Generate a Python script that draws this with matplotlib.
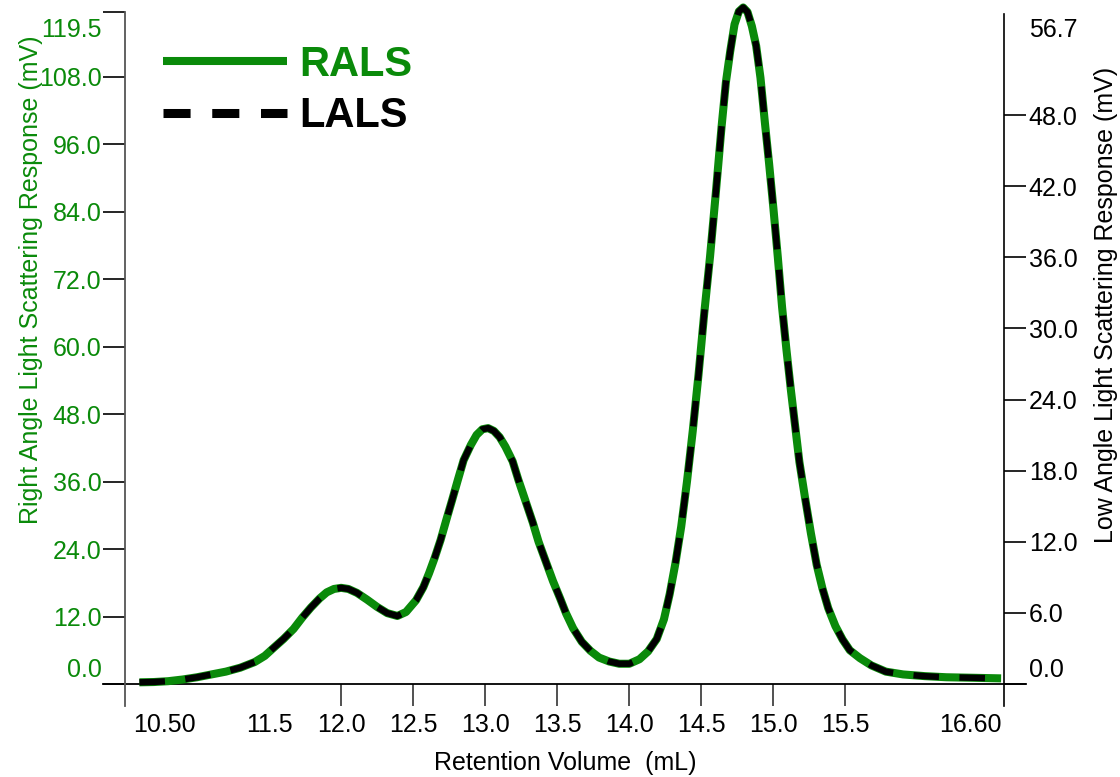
import matplotlib
matplotlib.use("Agg")
import matplotlib.pyplot as plt
from matplotlib.lines import Line2D

plt.rcParams['font.family'] = ['Liberation Sans', 'DejaVu Sans']

# Retention volume (mL)
volume = [10.60, 10.70, 10.80, 10.90, 11.00, 11.10, 11.20, 11.30, 11.40, 11.47,
          11.53, 11.60, 11.67, 11.73, 11.79, 11.85, 11.90, 11.95, 12.00, 12.05,
          12.11, 12.18, 12.25, 12.32, 12.39, 12.45, 12.52, 12.57, 12.61, 12.65,
          12.69, 12.73, 12.77, 12.81, 12.85, 12.90, 12.94, 12.98, 13.02, 13.06,
          13.10, 13.14, 13.19, 13.23, 13.28, 13.33, 13.37, 13.42, 13.47, 13.52,
          13.56, 13.61, 13.67, 13.73, 13.79, 13.86, 13.93, 14.00, 14.07, 14.13,
          14.19, 14.24, 14.28, 14.32, 14.36, 14.40, 14.44, 14.48, 14.52, 14.56,
          14.60, 14.64, 14.67, 14.70, 14.73, 14.76, 14.79, 14.82, 14.85, 14.88,
          14.91, 14.94, 14.97, 15.00, 15.03, 15.06, 15.09, 15.12, 15.15, 15.18,
          15.22, 15.26, 15.30, 15.34, 15.38, 15.43, 15.48, 15.53, 15.60, 15.68,
          15.78, 15.90, 16.05, 16.20, 16.40, 16.58]

# Right angle light scattering response (mV)
rals = [0.30, 0.35, 0.50, 0.80, 1.20, 1.70, 2.20, 2.90, 3.90, 5.00,
        6.40, 8.00, 9.80, 11.80, 13.60, 15.20, 16.30, 16.90, 17.10, 16.90,
        16.20, 15.00, 13.70, 12.60, 12.10, 12.80, 14.90, 17.20, 19.70, 22.50,
        25.60, 29.20, 32.70, 36.30, 39.80, 42.50, 44.30, 45.30, 45.50, 45.00,
        43.90, 42.20, 39.60, 36.30, 32.50, 28.70, 25.30, 21.80, 18.30, 15.20,
        12.60, 9.90, 7.50, 5.90, 4.70, 4.00, 3.60, 3.60, 4.40, 5.80,
        8.00, 11.50, 16.00, 21.50, 28.00, 36.00, 45.00, 55.00, 66.00, 76.00,
        87.30, 99.10, 107.00, 112.50, 117.30, 119.60, 120.30, 119.50, 117.00, 113.50,
        107.80, 100.00, 92.50, 84.50, 76.00, 67.00, 59.50, 52.50, 46.00, 39.50,
        33.00, 26.80, 21.20, 17.00, 13.50, 10.30, 7.90, 6.00, 4.60, 3.30,
        2.20, 1.70, 1.40, 1.20, 1.10, 1.00]

# Low angle light scattering response (mV)
lals = [0.14, 0.17, 0.24, 0.38, 0.57, 0.81, 1.04, 1.38, 1.85, 2.37,
        3.04, 3.80, 4.65, 5.60, 6.45, 7.21, 7.73, 8.02, 8.11, 8.02,
        7.69, 7.12, 6.50, 5.98, 5.74, 6.07, 7.07, 8.16, 9.35, 10.68,
        12.15, 13.86, 15.52, 17.22, 18.89, 20.17, 21.02, 21.49, 21.59, 21.35,
        20.83, 20.02, 18.79, 17.22, 15.42, 13.62, 12.00, 10.34, 8.68, 7.21,
        5.98, 4.70, 3.56, 2.80, 2.23, 1.90, 1.71, 1.71, 2.09, 2.75,
        3.80, 5.46, 7.59, 10.20, 13.29, 17.08, 21.35, 26.10, 31.32, 36.06,
        41.42, 47.02, 50.77, 53.38, 55.66, 56.75, 57.08, 56.70, 55.52, 53.85,
        51.15, 47.45, 43.89, 40.10, 36.06, 31.79, 28.23, 24.91, 21.83, 18.74,
        15.66, 12.72, 10.06, 8.07, 6.41, 4.89, 3.75, 2.85, 2.18, 1.57,
        1.04, 0.81, 0.66, 0.57, 0.52, 0.47]

left_ticks = [0, 12, 24, 36, 48, 60, 72, 84, 96, 108, 119.5]
right_ticks = [0, 6, 12, 18, 24, 30, 36, 42, 48]
x_ticks = [11.5, 12.0, 12.5, 13.0, 13.5, 14.0, 14.5, 15.0, 15.5]

GREEN = '#0a8a0a'
FS = 18

fig = plt.figure(figsize=(11.2, 7.77), dpi=100)
W, H = 1120, 777
L, R, T, B = 125, 1004, 12, 706
ax = fig.add_axes([L / W, 1 - B / H, (R - L) / W, (B - T) / H])
ax2 = ax.twinx()

px_per_left = (684 - 12) / 119.5
px_per_right = (684 - 12) / 56.7
ax.set_xlim(10.5, 16.6)
ax.set_ylim(-(B - 684) / px_per_left, 119.5)
ax2.set_ylim(-(B - 684) / px_per_right, 56.7)

ax.plot(volume, rals, color=GREEN, lw=5.8, solid_capstyle='butt',
        solid_joinstyle='round', zorder=3, clip_on=False)
ax2.plot(volume, lals, color='black', lw=4.6, dashes=(4.0, 3.2),
         dash_joinstyle='round', zorder=4, clip_on=False)

# spines
for a in (ax, ax2):
    a.spines['top'].set_visible(False)
    a.spines['bottom'].set_visible(False)
ax.spines['left'].set_color('#555555')
ax.spines['left'].set_linewidth(1.3)
ax.spines['right'].set_visible(False)
ax2.spines['left'].set_visible(False)
ax2.spines['right'].set_color('black')
ax2.spines['right'].set_linewidth(1.2)
ax2.spines['right'].set_bounds(-(B - 684) / px_per_right, 56.7 - 2 / px_per_right)

# zero line spanning beyond both spines
ax.axhline(0, xmin=-22 / (R - L), xmax=1 + 22 / (R - L), color='black', lw=1.3,
           clip_on=False, zorder=2)

# left axis
ax.set_yticks(left_ticks)
ax.set_yticklabels([''] + [f'{v:.1f}' for v in left_ticks[1:-1]] + [''])
ax.tick_params(axis='y', direction='out', length=15.8, width=1.2, color='black',
               labelcolor=GREEN, labelsize=FS, pad=1)
ax.annotate('119.5', xy=(0, 119.5), xycoords=('axes fraction', 'data'),
            xytext=(-17, -13), textcoords='offset points', ha='right', va='center',
            color=GREEN, fontsize=FS)
ax.annotate('0.0', xy=(0, 0), xycoords=('axes fraction', 'data'),
            xytext=(-17, 10), textcoords='offset points', ha='right', va='center',
            color=GREEN, fontsize=FS)

# right axis
ax2.set_yticks(right_ticks)
ax2.set_yticklabels([''] + [f'{v:.1f}' for v in right_ticks[1:]])
ax2.tick_params(axis='y', direction='out', length=15.8, width=1.2, color='black',
                labelcolor='black', labelsize=FS, pad=2)
ax2.annotate('56.7', xy=(1, 56.7), xycoords=('axes fraction', 'data'),
             xytext=(18, -13), textcoords='offset points', ha='left', va='center',
             color='black', fontsize=FS)
ax2.annotate('0.0', xy=(1, 0), xycoords=('axes fraction', 'data'),
             xytext=(18, 10), textcoords='offset points', ha='left', va='center',
             color='black', fontsize=FS)

# x axis
ax.set_xticks(x_ticks)
ax.set_xticklabels([f'{v:.1f}' for v in x_ticks])
ax.tick_params(axis='x', direction='in', length=15.8, width=1.2, color='#333333',
               labelsize=FS, pad=5)
ax.xaxis.get_major_ticks()[0].tick1line.set_visible(False)
ax.annotate('10.50', xy=(10.5, 0), xycoords=('data', 'axes fraction'),
            xytext=(6, -5), textcoords='offset points', ha='left', va='top', fontsize=FS)
ax.annotate('16.60', xy=(16.6, 0), xycoords=('data', 'axes fraction'),
            xytext=(-2, -5), textcoords='offset points', ha='right', va='top', fontsize=FS)

# axis titles
xl = ax.set_xlabel('Retention Volume  (mL)', fontsize=FS)
xl.set_va('center')
ax.xaxis.set_label_coords((565 - L) / (R - L), (B - 763) / (B - T))
yl = ax.set_ylabel('Right Angle Light Scattering Response (mV)', fontsize=FS, color=GREEN)
yl.set_va('center')
yl.set_ha('center')
ax.yaxis.set_label_coords((31 - L) / (R - L), (B - 280) / (B - T))
yr = ax2.set_ylabel('Low Angle Light Scattering Response (mV)', fontsize=FS, color='black')
yr.set_va('center')
yr.set_ha('center')
ax2.yaxis.set_label_coords((1106 - L) / (R - L), (B - 305) / (B - T))

# legend
handles = [Line2D([], [], color=GREEN, lw=5.8, solid_capstyle='butt'),
           Line2D([], [], color='black', lw=6.5, dashes=(3.0, 2.4), dash_capstyle='butt')]
leg = ax.legend(handles, ['RALS', 'LALS'], loc='upper left',
                bbox_to_anchor=(163 / W, 1 - 45 / H), bbox_transform=fig.transFigure,
                frameon=False, borderpad=0, borderaxespad=0, handlelength=2.97,
                handletextpad=0.3, labelspacing=0.27,
                prop={'size': 30, 'weight': 'bold'})
leg.get_texts()[0].set_color(GREEN)
leg.get_texts()[1].set_color('black')

fig.savefig('out.png', dpi=100)
